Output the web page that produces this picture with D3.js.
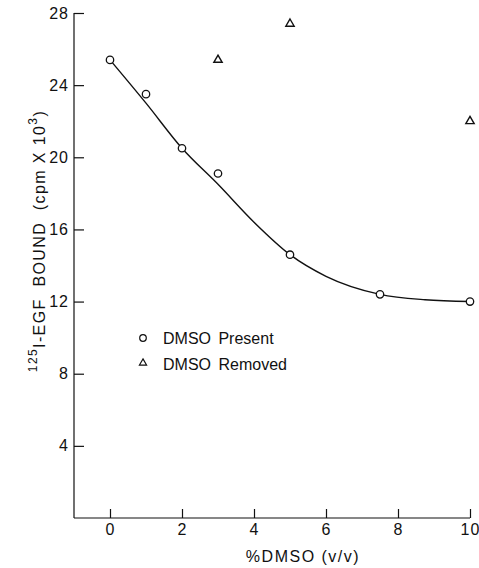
<!DOCTYPE html>
<html lang='en'>
  <head>
    <style type='text/css'>
      body { margin: 0; background-color: #fff; }
      svg { display: block; font-family: 'Liberation Sans', Arial, sans-serif; }
    </style>
  </head>
  <body>
    <div id='visualization'>
      <svg width='479' height='568'></svg>
    </div>

    <script src='https://d3js.org/d3.v7.min.js'></script>
    <script type='text/javascript'>
        // % DMSO values and binding (cpm x 10^3)
        var presentX = [0, 1, 2, 3, 5, 7.5, 10];
        var presentY = [25.4, 23.5, 20.5, 19.1, 14.6, 12.4, 12.0];
        var removedX = [3, 5, 10];
        var removedY = [25.4, 27.4, 22.0];
        // fitted curve as drawn in the figure
        var curveX = [0, 1, 2, 3, 4, 5, 6, 7.5, 8.75, 10];
        var curveY = [25.4, 23.0, 20.5, 18.5, 16.4, 14.6, 13.4, 12.4, 12.1, 12.0];
        var xTicks = [0, 2, 4, 6, 8, 10];
        var yTicks = [4, 8, 12, 16, 20, 24, 28];
        var legendLabels = ["DMSO Present", "DMSO Removed"];

        var svg = d3.select("svg");

        var x = d3.scaleLinear().domain([-1, 10]).range([74, 470]);
        var y = d3.scaleLinear().domain([0, 28]).range([518, 13]);

        // y axis, ticks pointing inward
        var yAxis = svg.append("g")
            .attr("transform", "translate(74,0)")
            .call(d3.axisLeft(y).tickValues(yTicks).tickSize(-10).tickPadding(5).tickSizeOuter(0));
        yAxis.select(".domain").attr("d", "M0," + y(0) + "V" + y(28));

        // x axis, ticks pointing up
        var xAxis = svg.append("g")
            .attr("transform", "translate(0,518)")
            .call(d3.axisBottom(x).tickValues(xTicks).tickSize(-9).tickPadding(6).tickSizeOuter(0));
        xAxis.select(".domain").attr("d", "M" + x(-1) + ",0H" + x(10));

        svg.selectAll(".tick text")
            .style("font-size", "16px")
            .style("letter-spacing", "1px")
            .attr("fill", "#111");
        svg.selectAll(".domain, .tick line").attr("stroke", "#111").attr("stroke-width", 1.2);

        // axis titles
        svg.append("text")
            .attr("x", 303).attr("y", 562)
            .attr("text-anchor", "middle")
            .style("font-size", "16px")
            .style("letter-spacing", "1.5px")
            .attr("fill", "#111")
            .text("%DMSO (v/v)");

        var yTitle = svg.append("text")
            .attr("transform", "translate(45,241) rotate(-90)")
            .attr("text-anchor", "middle")
            .style("font-size", "16px")
            .style("letter-spacing", "1.4px")
            .style("white-space", "pre")
            .attr("fill", "#111");
        yTitle.append("tspan").attr("dy", "-8").style("font-size", "12px").text("125");
        yTitle.append("tspan").attr("dy", "8").text("I-EGF  BOUND  (cpm X 10");
        yTitle.append("tspan").attr("dy", "-8").style("font-size", "12px").text("3");
        yTitle.append("tspan").attr("dy", "8").text(")");

        // fitted curve
        var curvePts = curveX.map(function(d, i) { return [d, curveY[i]]; });
        svg.append("path")
            .datum(curvePts)
            .attr("fill", "none")
            .attr("stroke", "#111")
            .attr("stroke-width", 1.4)
            .attr("d", d3.line()
                .x(function(d) { return x(d[0]); })
                .y(function(d) { return y(d[1]); })
                .curve(d3.curveMonotoneX));

        // DMSO present: open circles
        svg.selectAll(".present")
            .data(presentX.map(function(d, i) { return [d, presentY[i]]; }))
            .enter().append("circle")
            .attr("class", "present")
            .attr("cx", function(d) { return x(d[0]); })
            .attr("cy", function(d) { return y(d[1]); })
            .attr("r", 3.7)
            .attr("fill", "#fff")
            .attr("stroke", "#111")
            .attr("stroke-width", 1.3);

        // DMSO removed: open triangles
        var tri = d3.symbol().type(d3.symbolTriangle).size(30);
        svg.selectAll(".removed")
            .data(removedX.map(function(d, i) { return [d, removedY[i]]; }))
            .enter().append("path")
            .attr("class", "removed")
            .attr("transform", function(d) { return "translate(" + x(d[0]) + "," + y(d[1]) + ")"; })
            .attr("d", tri)
            .attr("fill", "#fff")
            .attr("stroke", "#111")
            .attr("stroke-width", 1.4);

        // legend
        var legend = svg.append("g").attr("transform", "translate(143,338)");
        legend.append("circle").attr("r", 3.3).attr("fill", "#fff").attr("stroke", "#111").attr("stroke-width", 1.2);
        legend.append("path").attr("transform", "translate(0,25)")
            .attr("d", d3.symbol().type(d3.symbolTriangle).size(22))
            .attr("fill", "#fff").attr("stroke", "#111").attr("stroke-width", 1.2);
        legend.selectAll("text")
            .data(legendLabels)
            .enter().append("text")
            .attr("x", 20)
            .attr("y", function(d, i) { return 6 + i * 26; })
            .style("font-size", "16px")
            .style("word-spacing", "3px")
            .attr("fill", "#111")
            .text(function(d) { return d; });
    </script>
  </body>
</html>
